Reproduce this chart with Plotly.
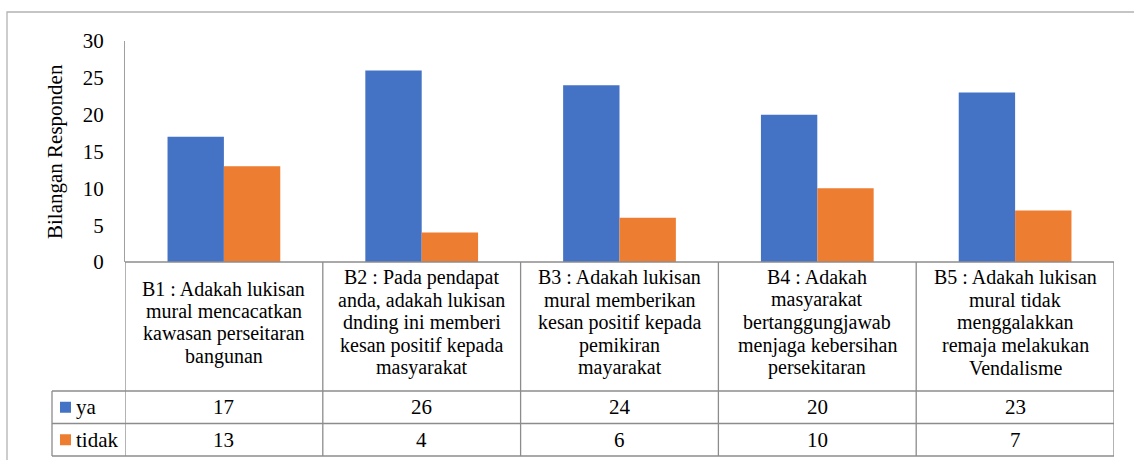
import plotly.graph_objects as go

# ---------------- data ----------------
categories = [
    "B1 : Adakah lukisan<br>mural mencacatkan<br>kawasan perseitaran<br>bangunan",
    "B2 : Pada pendapat<br>anda, adakah lukisan<br>dnding ini memberi<br>kesan positif kepada<br>masyarakat",
    "B3 : Adakah lukisan<br>mural memberikan<br>kesan positif kepada<br>pemikiran<br>mayarakat",
    "B4 : Adakah<br>masyarakat<br>bertanggungjawab<br>menjaga kebersihan<br>persekitaran",
    "B5 : Adakah lukisan<br>mural tidak<br>menggalakkan<br>remaja melakukan<br>Vendalisme",
]
series_names = ["ya", "tidak"]
ya = [17, 26, 24, 20, 23]
tidak = [13, 4, 6, 10, 7]
y_ticks = [0, 5, 10, 15, 20, 25, 30]
y_title = "Bilangan Responden"

# ---------------- style / layout ----------------
W, H = 1134, 460
L, R, T, B = 125, 1114, 41, 262          # plot area in pixels
COLORS = ["#4472C4", "#ED7D31"]
FONT = "'Liberation Serif', 'Times New Roman', Tinos, 'DejaVu Serif', serif"
FS = 21
FS_HDR = 20
TXT = "#000000"
GRID = "#8c8c8c"

ROW_TOP, ROW_YA, ROW_TIDAK, ROW_BOT = 262, 391, 423.5, 456
LEFT_COL = 52


def px_x(x):
    return (x - L) / (R - L)


def px_y(y):
    return (B - y) / (B - T)


fig = go.Figure()
for name, vals, col in zip(series_names, [ya, tidak], COLORS):
    fig.add_trace(go.Bar(x=categories, y=vals, name=name,
                         marker=dict(color=col, line=dict(width=0))))

shapes = []
line = dict(color=GRID, width=1.3)
# outer chart frame
shapes.append(dict(type="rect", xref="paper", yref="paper",
                   x0=px_x(7), x1=px_x(1150), y0=px_y(475), y1=px_y(12),
                   line=dict(color="#b3b3b3", width=1.3), fillcolor="rgba(0,0,0,0)"))
# table horizontal lines
shapes.append(dict(type="line", xref="paper", yref="paper",
                   x0=0, x1=1, y0=px_y(ROW_TOP), y1=px_y(ROW_TOP), line=line))
for yy in [ROW_YA, ROW_TIDAK, ROW_BOT]:
    shapes.append(dict(type="line", xref="paper", yref="paper",
                       x0=px_x(LEFT_COL), x1=1, y0=px_y(yy), y1=px_y(yy), line=line))
# table vertical lines (column boundaries through category scale)
n = len(categories)
for i in range(n + 1):
    shapes.append(dict(type="line", xref="x", yref="paper",
                       x0=i - 0.5, x1=i - 0.5, y0=px_y(ROW_TOP), y1=px_y(ROW_BOT), line=line))
shapes.append(dict(type="line", xref="paper", yref="paper",
                   x0=px_x(LEFT_COL), x1=px_x(LEFT_COL), y0=px_y(ROW_YA), y1=px_y(ROW_BOT), line=line))

annotations = []
# header cells
LINE_H = 22.6
hdr_c = 322.5
for i, cat in enumerate(categories):
    lines = cat.split("<br>")
    k = len(lines)
    for j, t in enumerate(lines):
        yy = hdr_c + (j - (k - 1) / 2) * LINE_H
        annotations.append(dict(x=i, y=px_y(yy), xref="x", yref="paper", text=t,
                                showarrow=False, xanchor="center", yanchor="middle",
                                font=dict(family=FONT, size=FS_HDR, color=TXT)))
# value rows + legend keys
row_centers = [(ROW_YA + ROW_TIDAK) / 2, (ROW_TIDAK + ROW_BOT) / 2]
for name, vals, col, rc in zip(series_names, [ya, tidak], COLORS, row_centers):
    for i, v in enumerate(vals):
        annotations.append(dict(x=i, y=px_y(rc), xref="x", yref="paper", text=str(v),
                                showarrow=False, xanchor="center", yanchor="middle",
                                font=dict(family=FONT, size=FS, color=TXT)))
    annotations.append(dict(x=px_x(74), y=px_y(rc), xref="paper", yref="paper", text=name,
                            showarrow=False, xanchor="left", yanchor="middle",
                            font=dict(family=FONT, size=FS, color=TXT)))
    shapes.append(dict(type="rect", xref="paper", yref="paper",
                       x0=px_x(60), x1=px_x(71), y0=px_y(rc + 5.5), y1=px_y(rc - 5.5),
                       line=dict(width=0), fillcolor=col))
# y title
annotations.append(dict(x=px_x(55), y=px_y(152), xref="paper", yref="paper", text=y_title,
                        showarrow=False, textangle=-90, xanchor="center", yanchor="middle",
                        font=dict(family=FONT, size=FS, color=TXT)))

fig.update_layout(
    width=W, height=H, autosize=False,
    margin=dict(l=L, r=W - R, t=T, b=H - B),
    paper_bgcolor="white", plot_bgcolor="white",
    barmode="group", bargap=0.43, bargroupgap=0,
    showlegend=False,
    font=dict(family=FONT, size=FS, color=TXT),
    xaxis=dict(range=[-0.5, n - 0.5], showticklabels=False, showgrid=False,
               zeroline=False, showline=False, ticks=""),
    yaxis=dict(range=[0, 30], tickvals=y_ticks, showgrid=False, zeroline=False,
               showline=True, linecolor="#a0a0a0", linewidth=1.3, ticks="",
               ticklabelstandoff=16, tickfont=dict(family=FONT, size=FS, color=TXT)),
    shapes=shapes, annotations=annotations,
)

fig.write_html("out.html", config={"displayModeBar": False},
               post_script="document.body.style.margin='0';")
